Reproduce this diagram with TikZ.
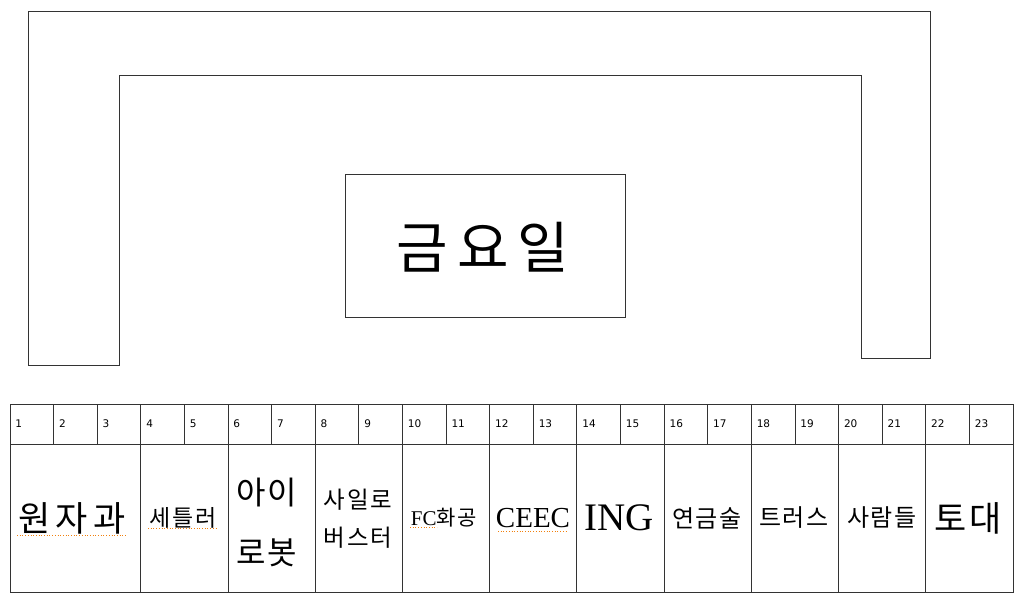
\documentclass[tikz,border=0pt]{standalone}
\usepackage{fontspec}
\setmainfont{Noto Sans CJK KR}
\newfontfamily\latinserif{Liberation Serif}
\newfontfamily\numfont{DejaVu Sans}
\newcommand\kg[1]{\kern#1pt\relax}
\begin{document}
\begin{tikzpicture}[x=1pt,y=-1pt,line width=0.9pt,
  frame/.style={draw=black!80},
  hcell/.style={draw=black!80,minimum width=43.61pt,minimum height=40pt,inner sep=0pt},
  num/.style={anchor=west,inner sep=0pt,font=\numfont\fontsize{10.5}{12}\selectfont},
  bcell/.style={draw=black!80,minimum width=87.22pt,minimum height=148pt,inner sep=0pt},
  txt/.style={inner sep=0pt,align=center},
  squiggle/.style={draw=orange!80!brown,line width=0.7pt,dotted}]
\useasboundingbox (0,0) rectangle (1024,613);
% U-shaped frame
\draw[frame] (28,11) -- (930,11) -- (930,358) -- (861,358) -- (861,75) -- (119,75) -- (119,365) -- (28,365) -- cycle;
% centre box
\node[frame,minimum width=280pt,minimum height=143pt,inner sep=0pt] (fri) at (485,246) {};
\node[txt,font=\fontsize{56}{60}\selectfont] (fritxt) at (483,247) {금\kg{9}요\kg{9}일};
% header cells
\foreach \i in {1,...,23}{
  \pgfmathsetmacro{\cx}{10+(\i-0.5)*43.6087}
  \pgfmathsetmacro{\lx}{10+(\i-1)*43.6087+5}
  \node[hcell] (h\i) at (\cx,424) {};
  \node[num] (n\i) at (\lx,424) {\i};
}
% body cells
\node[bcell,minimum width=130.83pt] (b1) at (75.41,518) {};
\node[bcell] (b2) at (184.43,518) {};
\node[bcell] (b3) at (271.65,518) {};
\node[bcell] (b4) at (358.87,518) {};
\node[bcell] (b5) at (446.09,518) {};
\node[bcell] (b6) at (533.30,518) {};
\node[bcell] (b7) at (620.52,518) {};
\node[bcell] (b8) at (707.74,518) {};
\node[bcell] (b9) at (794.96,518) {};
\node[bcell] (b10) at (882.17,518) {};
\node[bcell] (b11) at (969.39,518) {};
% body texts
\node[txt,font=\fontsize{35}{40}\selectfont] (t1) at (72,518) {원\kg{5}자\kg{5}과};
\node[txt,font=\fontsize{23}{26}\selectfont] (t2) at (183,518) {세\kg{2}틀\kg{2}러};
\node[txt,font=\fontsize{32}{60}\selectfont] (t3) at (267,522) {아\kg{2}이\\로\kg{2}봇};
\node[txt,font=\fontsize{23.5}{38}\selectfont] (t4) at (358,519) {사\kg{2}일\kg{2}로\\버\kg{2}스\kg{2}터};
\node[txt,font=\fontsize{21}{26}\selectfont] (t5) at (444,518) {{\latinserif FC}화\kg{2}공};
\node[txt,font=\latinserif\fontsize{29}{34}\selectfont] (t6) at (533,518) {CEEC};
\node[txt,font=\latinserif\fontsize{39}{44}\selectfont] (t7) at (619,518) {ING};
\node[txt,font=\fontsize{24}{26}\selectfont] (t8) at (707,518) {연\kg{1.5}금\kg{1.5}술};
\node[txt,font=\fontsize{24}{26}\selectfont] (t9) at (794,518) {트\kg{1.5}러\kg{1.5}스};
\node[txt,font=\fontsize{24}{26}\selectfont] (t10) at (882,518) {사\kg{1.5}람\kg{1.5}들};
\node[txt,font=\fontsize{35}{40}\selectfont] (t11) at (968,518) {토\kg{3}대};
% spell-check underlines
\draw[squiggle] (17,535) -- (127,535);
\draw[squiggle] (148,528) -- (218,528);
\draw[squiggle] (410,527) -- (437,527);
\draw[squiggle] (498,531) -- (568,531);
\end{tikzpicture}
\end{document}
